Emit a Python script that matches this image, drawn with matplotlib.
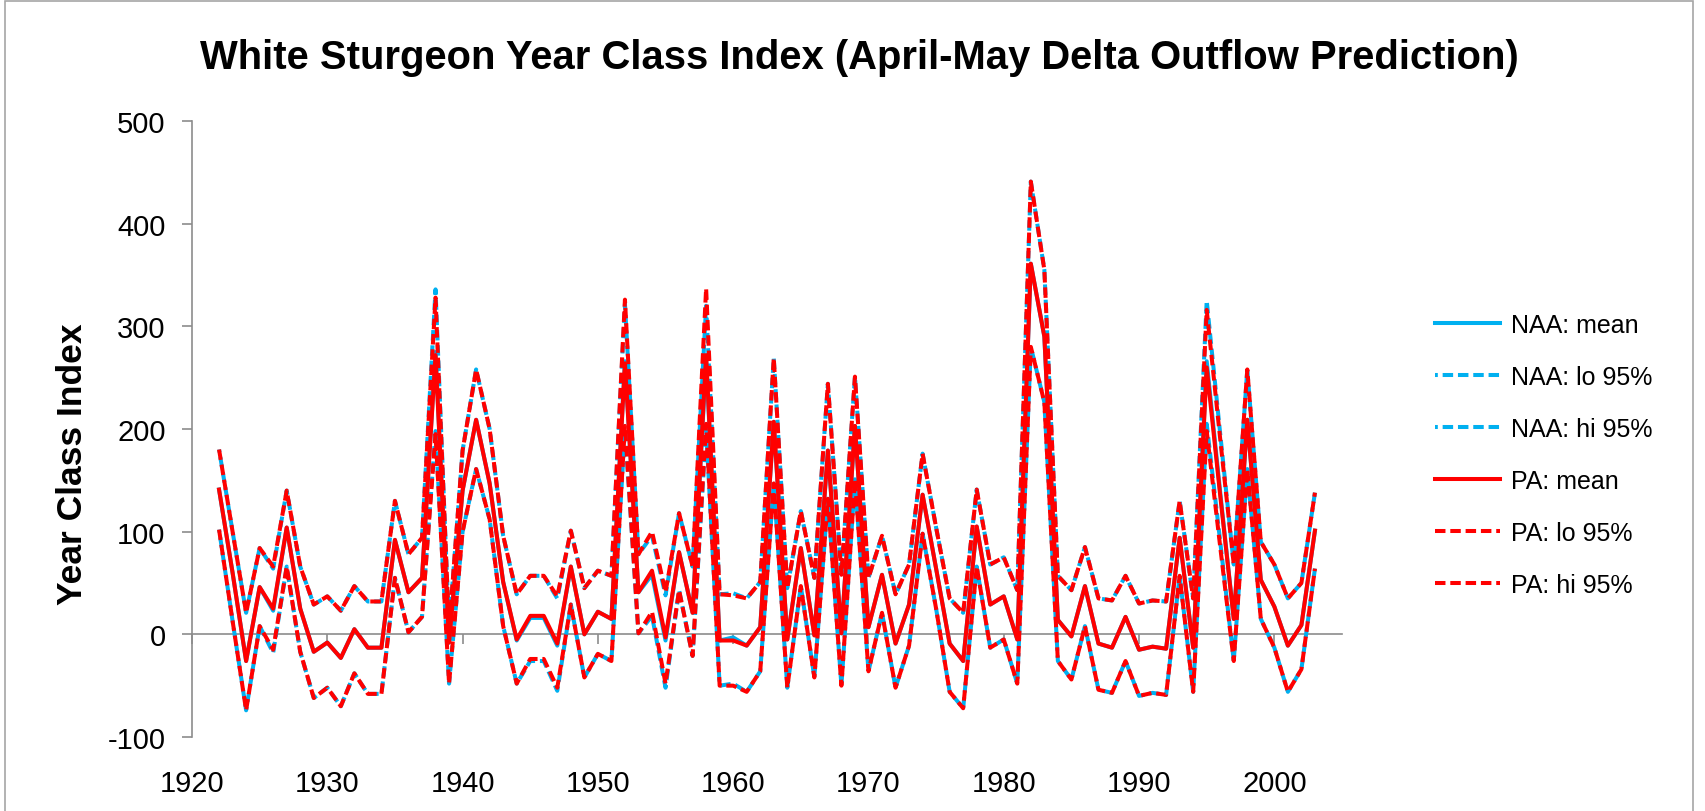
import numpy as np
import matplotlib
matplotlib.use("Agg")
import matplotlib.pyplot as plt
from matplotlib.patches import Rectangle

plt.rcParams['font.family'] = ['Liberation Sans', 'DejaVu Sans']
plt.rcParams['axes.unicode_minus'] = False

years = np.arange(1922, 2004)

# PA model (mean and 95% bounds)
pa_mean = [141, 60, -26, 46, 25, 104, 25, -17, -8, -23, 5, -13, -13, 92, 41, 55, 272, -8,
           140, 209, 147, 51, -5, 18, 18, -9, 66, 0, 22, 15, 264, 41, 62, -3, 80, 21, 272, -6,
           -6, -11, 7, 207, -5, 84, -1, 179, 1, 203, 7, 58, -9, 29, 136, 64, -9, -26, 105, 29,
           37, -5, 361, 290, 14, -2, 47, -9, -13, 17, -15, -12, -14, 94, -13, 260, 135, 15,
           209, 53, 27, -11, 9, 101]
pa_hi = [180, 100, 21, 84, 66, 140, 66, 29, 37, 23, 47, 32, 32, 130, 78, 94, 328, 5,
         179, 258, 200, 96, 39, 57, 57, 37, 101, 45, 62, 57, 326, 78, 100, 41, 118, 66, 337, 39,
         38, 35, 51, 269, 45, 120, 55, 244, 58, 251, 55, 96, 39, 68, 176, 104, 35, 21, 141, 68,
         75, 43, 441, 355, 57, 43, 85, 35, 33, 57, 30, 33, 32, 130, 35, 316, 190, 68,
         258, 90, 68, 35, 50, 138]
pa_lo = [102, 13, -74, 8, -15, 66, -17, -62, -52, -70, -38, -58, -58, 55, 2, 17, 195, -48,
         100, 161, 112, 8, -48, -24, -24, -52, 29, -42, -19, -26, 203, 1, 22, -48, 43, -21, 205, -50,
         -50, -56, -36, 147, -52, 47, -42, 132, -50, 151, -36, 21, -52, -11, 98, 25, -56, -72, 66, -13,
         -5, -48, 280, 226, -26, -44, 8, -54, -57, -26, -60, -57, -59, 57, -56, 198, 85, -26,
         161, 15, -13, -56, -34, 64]

# NAA model (nearly the same as PA)
naa_mean = [141, 60, -26, 46, 23, 104, 25, -17, -8, -23, 5, -13, -13, 92, 41, 55, 275, -8,
            140, 209, 147, 51, -6, 16, 16, -11, 66, 0, 22, 15, 266, 41, 58, -6, 80, 21, 268, -6,
            -3, -11, 7, 207, -5, 84, -1, 179, 1, 203, 7, 58, -9, 29, 136, 64, -9, -26, 105, 29,
            37, -5, 361, 290, 14, -2, 47, -9, -13, 17, -15, -12, -14, 94, -13, 266, 138, 15,
            209, 53, 27, -11, 9, 101]
naa_hi = [180, 100, 21, 84, 64, 140, 66, 29, 37, 23, 47, 32, 32, 130, 78, 94, 336, 5,
          179, 258, 200, 96, 39, 57, 57, 35, 101, 45, 62, 57, 322, 78, 96, 38, 118, 66, 320, 39,
          40, 35, 51, 269, 45, 120, 55, 244, 58, 251, 55, 96, 39, 68, 176, 104, 35, 21, 141, 68,
          75, 43, 441, 355, 57, 43, 85, 35, 33, 57, 30, 33, 32, 130, 35, 325, 195, 68,
          258, 90, 68, 35, 50, 138]
naa_lo = [102, 13, -74, 8, -18, 66, -17, -62, -52, -70, -38, -58, -58, 55, 2, 17, 198, -48,
          100, 161, 112, 8, -48, -26, -26, -55, 29, -42, -19, -26, 200, 1, 18, -52, 43, -21, 200, -50,
          -48, -56, -36, 147, -52, 47, -42, 132, -50, 151, -36, 21, -52, -11, 98, 25, -56, -72, 66, -13,
          -5, -48, 280, 226, -26, -44, 8, -54, -57, -26, -60, -57, -59, 57, -56, 205, 90, -26,
          161, 15, -13, -56, -34, 64]

x_ticks = [1920, 1930, 1940, 1950, 1960, 1970, 1980, 1990, 2000]
y_ticks = [-100, 0, 100, 200, 300, 400, 500]

blue = '#00B0F0'
red = '#FF0000'
grey = '#8C8C8C'
lw = 2.9
dash = (2.6, 1.2)

fig = plt.figure(figsize=(17.05, 8.12), dpi=100)
fig.patch.set_facecolor('white')
fig.patches.append(Rectangle((0.003, -0.01), 0.99, 1.007, transform=fig.transFigure,
                             fill=False, edgecolor='#A6A6A6', linewidth=1.2))

ax = fig.add_axes([192/1705, 1 - 738/812, (1342 - 192)/1705, (738 - 122)/812])

ax.plot(years, naa_mean, color=blue, lw=lw, label='NAA: mean')
ax.plot(years, naa_lo, color=blue, lw=lw, linestyle=(1.9, dash), label='NAA: lo 95%')
ax.plot(years, naa_hi, color=blue, lw=lw, linestyle=(1.9, dash), label='NAA: hi 95%')
ax.plot(years, pa_mean, color=red, lw=lw, label='PA: mean')
ax.plot(years, pa_lo, color=red, lw=lw, linestyle=(0, dash), label='PA: lo 95%')
ax.plot(years, pa_hi, color=red, lw=lw, linestyle=(0, dash), label='PA: hi 95%')

ax.set_xlim(1920, 2005)
ax.set_ylim(-100, 500)
ax.set_xticks(x_ticks)
ax.set_yticks(y_ticks)

for s in ['top', 'right']:
    ax.spines[s].set_visible(False)
ax.spines['left'].set_color(grey)
ax.spines['left'].set_linewidth(1.2)
ax.spines['bottom'].set_position(('data', 0))
ax.spines['bottom'].set_color(grey)
ax.spines['bottom'].set_linewidth(1.2)
ax.spines['bottom'].set_zorder(0)

ax.tick_params(axis='y', direction='out', length=7, width=1.2, color=grey,
               labelsize=21, pad=12)
ax.tick_params(axis='x', direction='out', length=7, width=1.2, color=grey,
               labelsize=21, pad=90)

ax.set_ylabel('Year Class Index', fontsize=25.5, fontweight='bold')
ax.yaxis.set_label_coords(-0.09, 0.445)

fig.text(0.504, 0.928, 'White Sturgeon Year Class Index (April-May Delta Outflow Prediction)',
         ha='center', va='center', fontsize=28.8, fontweight='bold')

leg = ax.legend(loc='center left', bbox_to_anchor=(1435/1705, 1 - 456/812),
                bbox_transform=fig.transFigure, frameon=False, fontsize=18,
                handlelength=2.6, handletextpad=0.45, labelspacing=1.12,
                borderpad=0, borderaxespad=0)

fig.savefig('out.png', dpi=100, facecolor='white')
